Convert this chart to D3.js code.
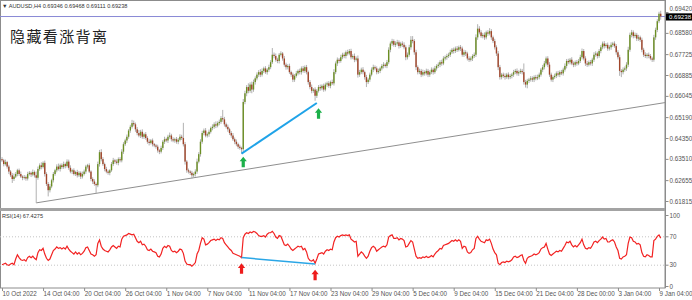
<!DOCTYPE html>
<html>
<head>
<meta charset="utf-8">
<script src="https://cdn.jsdelivr.net/npm/d3@7"></script>
<style>
  body { margin: 0; background: #fff; }
  svg { display: block; font-family: "Liberation Sans", Arial, sans-serif; }
</style>
</head>
<body>
<svg id="chart"></svg>
<script>
// AUDUSD H4 bars, prices in pips (x 0.0001)
const opens = [
  6350,6345,6330,6338,6320,6300,6285,6270,6280,6290, 6305,6290,6280,6275,6278,6272,6290,6295,6288,6298,
  6285,6275,6310,6325,6318,6335,6290,6250,6225,6240, 6265,6290,6305,6320,6310,6325,6318,6330,6322,6340,
  6315,6300,6305,6290,6298,6285,6295,6280,6290,6300, 6320,6325,6300,6270,6260,6250,6245,6330,6378,6350,
  6330,6310,6300,6295,6305,6330,6345,6340,6335,6350, 6345,6380,6410,6425,6440,6465,6480,6495,6490,6470,
  6455,6445,6460,6440,6450,6435,6420,6415,6425,6410, 6405,6400,6385,6380,6395,6420,6430,6425,6440,6445,
  6430,6425,6430,6420,6428,6440,6435,6410,6340,6305, 6300,6295,6285,6290,6300,6340,6370,6420,6455,6465,
  6445,6450,6460,6475,6480,6490,6485,6495,6500,6515, 6510,6490,6480,6470,6455,6445,6430,6420,6410,6400,
  6395,6390,6580,6615,6640,6625,6650,6630,6660,6675, 6690,6700,6690,6705,6715,6700,6710,6720,6740,6770,
  6765,6750,6745,6770,6775,6755,6730,6720,6725,6700, 6690,6670,6685,6695,6705,6700,6715,6705,6720,6700,
  6660,6640,6625,6630,6605,6625,6640,6635,6645,6630, 6650,6655,6645,6660,6655,6700,6735,6750,6745,6760,
  6770,6765,6780,6775,6785,6760,6765,6750,6755,6690, 6700,6710,6700,6680,6660,6670,6690,6710,6720,6715,
  6700,6705,6715,6725,6730,6725,6740,6790,6815,6825, 6810,6815,6820,6805,6815,6810,6800,6760,6770,6800,
  6830,6825,6780,6720,6700,6705,6690,6700,6695,6705, 6690,6700,6710,6700,6715,6725,6730,6740,6735,6755,
  6760,6765,6770,6780,6790,6785,6795,6790,6800,6795, 6770,6780,6775,6755,6750,6755,6765,6770,6840,6875,
  6860,6845,6850,6840,6860,6855,6865,6840,6825,6800, 6775,6720,6680,6690,6685,6680,6690,6680,6685,6690,
  6700,6705,6695,6700,6705,6700,6660,6650,6665,6670, 6675,6670,6680,6675,6680,6690,6710,6720,6735,6755,
  6730,6690,6670,6680,6685,6695,6690,6700,6695,6710, 6725,6745,6740,6750,6735,6730,6740,6735,6745,6760,
  6785,6755,6735,6730,6740,6735,6750,6770,6775,6765, 6785,6800,6815,6805,6810,6795,6800,6810,6815,6805,
  6780,6760,6705,6700,6710,6715,6730,6790,6850,6860, 6845,6850,6835,6840,6830,6790,6770,6765,6770,6765,
  6755,6750,6840,6870,6905,6935
];
const closes = [
  6345,6330,6338,6320,6300,6285,6270,6280,6290,6305, 6290,6280,6275,6278,6272,6290,6295,6288,6298,6285,
  6275,6310,6325,6318,6335,6290,6250,6225,6240,6265, 6290,6305,6320,6310,6325,6318,6330,6322,6340,6315,
  6300,6305,6290,6298,6285,6295,6280,6290,6300,6320, 6325,6300,6270,6260,6250,6245,6330,6378,6350,6330,
  6310,6300,6295,6305,6330,6345,6340,6335,6350,6345, 6380,6410,6425,6440,6465,6480,6495,6490,6470,6455,
  6445,6460,6440,6450,6435,6420,6415,6425,6410,6405, 6400,6385,6380,6395,6420,6430,6425,6440,6445,6430,
  6425,6430,6420,6428,6440,6435,6410,6340,6305,6300, 6295,6285,6290,6300,6340,6370,6420,6455,6465,6445,
  6450,6460,6475,6480,6490,6485,6495,6500,6515,6510, 6490,6480,6470,6455,6445,6430,6420,6410,6400,6395,
  6390,6580,6615,6640,6625,6650,6630,6660,6675,6690, 6700,6690,6705,6715,6700,6710,6720,6740,6770,6765,
  6750,6745,6770,6775,6755,6730,6720,6725,6700,6690, 6670,6685,6695,6705,6700,6715,6705,6720,6700,6660,
  6640,6625,6630,6605,6625,6640,6635,6645,6630,6650, 6655,6645,6660,6655,6700,6735,6750,6745,6760,6770,
  6765,6780,6775,6785,6760,6765,6750,6755,6690,6700, 6710,6700,6680,6660,6670,6690,6710,6720,6715,6700,
  6705,6715,6725,6730,6725,6740,6790,6815,6825,6810, 6815,6820,6805,6815,6810,6800,6760,6770,6800,6830,
  6825,6780,6720,6700,6705,6690,6700,6695,6705,6690, 6700,6710,6700,6715,6725,6730,6740,6735,6755,6760,
  6765,6770,6780,6790,6785,6795,6790,6800,6795,6770, 6780,6775,6755,6750,6755,6765,6770,6840,6875,6860,
  6845,6850,6840,6860,6855,6865,6840,6825,6800,6775, 6720,6680,6690,6685,6680,6690,6680,6685,6690,6700,
  6705,6695,6700,6705,6700,6660,6650,6665,6670,6675, 6670,6680,6675,6680,6690,6710,6720,6735,6755,6730,
  6690,6670,6680,6685,6695,6690,6700,6695,6710,6725, 6745,6740,6750,6735,6730,6740,6735,6745,6760,6785,
  6755,6735,6730,6740,6735,6750,6770,6775,6765,6785, 6800,6815,6805,6810,6795,6800,6810,6815,6805,6780,
  6760,6705,6700,6710,6715,6730,6790,6850,6860,6845, 6850,6835,6840,6830,6790,6770,6765,6770,6765,6755,
  6750,6840,6870,6905,6935,6924
];
// wick lengths above / below the body, in pips
const wickUp = [
  8,6,10,5,7,6,9,12,8,6, 7,10,5,8,6,9,7,5,10,6, 15,10,8,12,6,9,7,8,10,6, 8,6,9,12,7,8,10,6,9,8,
  10,6,8,5,9,7,6,10,8,7, 6,8,5,7,9,6,10,9,12,8, 6,9,7,5,8,10,6,9,7,8, 10,8,7,9,6,8,13,10,7,9,
  12,8,10,6,9,7,10,6,8,5, 6,8,5,9,7,10,6,8,12,7, 8,6,9,7,10,8,61,9,6,7, 5,8,6,9,12,8,10,9,8,10,
  7,9,6,10,8,12,7,9,8,33, 10,7,9,6,8,10,7,9,6,8, 5,12,10,8,15,9,12,10,8,9, 8,12,10,7,9,6,10,8,27,9,
  10,8,7,9,6,10,8,7,9,6, 8,7,10,6,9,8,10,7,9,6, 8,10,6,9,7,8,10,6,9,8, 7,9,6,10,12,8,9,7,10,8,
  9,7,10,8,9,7,10,8,12,9, 8,10,6,9,7,8,9,10,7,8, 9,7,8,10,6,9,10,8,9,7, 9,10,8,7,9,10,8,9,10,15,
  15,8,10,7,9,8,10,7,9,8, 7,9,8,10,7,9,8,10,9,7, 9,8,10,7,9,8,10,7,9,8, 10,8,7,9,8,7,9,12,18,10,
  9,8,10,7,9,12,8,7,9,8, 10,9,7,8,10,7,9,8,7,9, 8,10,7,9,8,35,9,8,7,9, 8,7,9,10,8,7,9,10,8,9,
  10,8,7,9,8,10,7,9,8,10, 8,9,7,10,8,7,9,8,10,10, 8,9,10,7,9,8,10,9,7,8, 9,8,10,7,9,8,10,7,9,8,
  8,10,7,9,8,10,12,9,10,8, 9,8,10,7,9,8,10,7,9,8, 7,10,9,8,8,12
];
const wickDown = [
  7,9,6,8,10,7,16,8,6,9, 8,6,10,7,9,8,6,10,7,9, 101,8,7,9,6,10,8,25,9,7, 9,7,8,6,10,8,7,9,6,8,
  7,10,6,8,9,7,10,8,6,9, 8,6,9,10,7,33,8,10,9,7, 9,7,8,10,6,8,9,7,10,8, 8,9,7,10,8,9,7,8,10,9,
  7,10,8,9,7,8,10,6,9,7, 8,9,10,7,8,9,7,10,8,9, 7,9,8,10,7,8,9,12,10,8, 9,13,8,10,9,7,10,8,9,7,
  8,10,7,9,8,10,7,9,8,10, 9,7,10,8,9,7,10,8,9,7, 18,10,9,12,10,8,15,9,10,8, 9,10,8,9,7,10,9,8,7,9,
  8,9,10,7,9,8,10,9,7,9, 10,9,7,8,9,10,7,8,9,10, 9,10,8,20,9,7,10,8,9,7, 9,8,10,7,9,8,10,9,7,8,
  9,10,8,7,9,8,10,7,12,9, 8,9,10,20,8,9,7,10,8,9, 7,9,8,10,7,9,8,10,9,8, 9,8,10,7,9,8,12,9,8,10,
  9,10,12,9,8,10,7,9,8,10, 9,8,10,7,9,8,10,9,7,8, 10,8,9,7,10,8,9,7,10,8, 9,10,8,9,7,10,8,9,10,8,
  7,9,10,8,9,7,10,8,9,10, 12,10,9,8,10,7,9,8,10,9, 8,9,10,7,9,10,12,15,9,8, 9,10,8,7,9,8,10,9,8,10,
  9,8,10,7,9,8,10,7,9,8, 10,8,9,7,10,8,9,7,8,9, 8,10,9,7,8,10,9,8,10,7, 9,8,10,7,9,8,10,9,7,10,
  9,20,20,9,8,10,9,8,10,9, 8,10,9,8,10,9,8,10,9,7, 9,8,10,9,8,13
];
const rsiValues = [
  30,31,32,30,29,31,32,30,38,44, 40,37,36,37,35,40,42,40,42,39, 37,47,51,50,53,45,39,36,38,44,
  50,52,55,53,54,52,54,52,56,52, 49,47,45,48,45,47,44,46,49,54, 55,50,45,44,42,44,60,65,56,52,
  50,49,48,51,55,57,55,53,56,55, 66,70,71,72,74,73,72,73,68,63, 61,63,58,59,56,51,50,52,49,48,
  47,42,41,45,53,56,54,57,56,50, 48,49,47,49,52,51,46,35,31,30, 30,28,30,33,45,50,60,68,66,58,
  59,61,64,65,66,64,66,65,68,67, 61,58,55,52,50,46,45,44,43,42, 40,68,73,75,74,76,75,77,76,74,
  71,70,70,71,69,73,75,75,77,74, 69,67,71,70,64,58,57,59,56,52, 50,52,54,56,55,56,51,53,48,39,
  36,35,37,32,38,45,46,47,45,49, 51,50,52,51,62,68,70,69,71,72, 71,72,71,72,66,64,62,63,42,45,
  48,46,42,39,42,49,54,56,54,49, 51,53,55,56,55,58,69,71,72,67, 67,68,65,67,66,64,55,56,60,64,
  62,52,42,39,40,39,41,40,42,40, 41,43,41,45,48,50,53,52,57,58, 59,60,62,64,63,65,63,65,63,53,
  56,55,48,46,47,51,53,67,70,66, 63,62,61,65,64,66,60,52,47,44, 32,30,33,34,33,35,34,35,37,41,
  42,40,41,43,44,36,32,39,41,42, 43,45,44,45,47,52,54,55,60,52, 45,43,45,47,49,48,50,49,53,57,
  62,61,63,58,55,57,55,58,61,66, 58,53,52,54,53,57,62,63,61,64, 66,69,66,67,62,62,64,65,62,55,
  50,39,38,41,42,44,60,69,68,63, 62,59,60,58,47,42,41,44,43,41, 41,64,66,70,72,67.4275
];

const priceTicks = [0.69420, 0.68580, 0.67725, 0.66885, 0.66045, 0.65190, 0.64350, 0.63510, 0.62655, 0.61815];
const rsiTicks = [100, 70, 30, 0];
const rsiLevels = [70, 30];
const timeTickBars = [0, 24, 48, 72, 96, 120, 144, 168, 192, 216, 240, 264, 288, 312, 336, 360, 384];
const timeLabels = ["10 Oct 2022", "14 Oct 04:00", "20 Oct 04:00", "26 Oct 04:00", "1 Nov 04:00",
  "7 Nov 04:00", "11 Nov 04:00", "17 Nov 04:00", "23 Nov 04:00", "29 Nov 04:00", "5 Dec 04:00",
  "9 Dec 04:00", "15 Dec 04:00", "21 Dec 04:00", "28 Dec 00:00", "3 Jan 04:00", "9 Jan 04:00"];

// drawn objects: [bar index, value]
const trendLine = [[20, 0.6174], [388, 0.6578]];
const priceDivergence = [[140, 0.6372], [184, 0.6576]];
const rsiDivergence = [[140, 40], [183, 31]];
const priceArrows = [[141, 0.6360], [185, 0.6555]];
const rsiArrows = [[140, 32], [183, 23]];

const headerText = "▼ AUDUSD,H4  0.69346 0.69468 0.69111 0.69238";
const titleText = "隐藏看涨背离";
const rsiTitle = "RSI(14) 67.4275";
const lastPrice = 0.69238;

// ---- layout
const W = 692, H = 300;
const plotRight = 665;
const mainBottom = 207, rsiTop = 211, rsiBottom = 288;

const svg = d3.select("#chart").attr("width", W).attr("height", H);

const x = d3.scaleLinear().domain([0, 384]).range([2, 659]);
const y = d3.scaleLinear().domain([0.61815, 0.69420]).range([201, 12]);
const yR = d3.scaleLinear().domain([0, 100]).range([286, 215]);

const bars = closes.map((c, i) => {
  const o = opens[i];
  return {
    i,
    o: o / 1e4,
    c: c / 1e4,
    h: (Math.max(o, c) + wickUp[i]) / 1e4,
    l: (Math.min(o, c) - wickDown[i]) / 1e4
  };
});

svg.append("defs").append("clipPath").attr("id", "mainClip")
  .append("rect").attr("x", 0).attr("y", 0).attr("width", plotRight).attr("height", mainBottom);
svg.select("defs").append("clipPath").attr("id", "rsiClip")
  .append("rect").attr("x", 0).attr("y", rsiTop).attr("width", plotRight).attr("height", rsiBottom - rsiTop);

// frame
svg.append("rect").attr("x", 0.5).attr("y", 0.5).attr("width", plotRight - 0.5).attr("height", rsiBottom - 0.5)
  .attr("fill", "none").attr("stroke", "#8c8c8c");
svg.append("rect").attr("x", 0).attr("y", mainBottom + 1).attr("width", plotRight + 1).attr("height", 3)
  .attr("fill", "#a3a3a3");

const main = svg.append("g").attr("clip-path", "url(#mainClip)");

// bid line
main.append("line")
  .attr("x1", 0).attr("x2", plotRight)
  .attr("y1", y(lastPrice)).attr("y2", y(lastPrice))
  .attr("stroke", "#8a8ad6").attr("stroke-width", 1);

// trend line
main.append("line")
  .attr("x1", x(trendLine[0][0])).attr("y1", y(trendLine[0][1]))
  .attr("x2", x(trendLine[1][0])).attr("y2", y(trendLine[1][1]))
  .attr("stroke", "#8f8f8f").attr("stroke-width", 1);

// candles
const candle = main.append("g").selectAll("g").data(bars).join("g");
candle.append("line")
  .attr("x1", d => x(d.i)).attr("x2", d => x(d.i))
  .attr("y1", d => y(d.h)).attr("y2", d => y(d.l))
  .attr("stroke", "#a8a8a8").attr("stroke-width", 0.9);
candle.append("rect")
  .attr("x", d => x(d.i) - 0.7)
  .attr("width", 1.4)
  .attr("y", d => y(Math.max(d.o, d.c)))
  .attr("height", d => Math.max(0.8, Math.abs(y(d.o) - y(d.c))))
  .attr("fill", d => d.c >= d.o ? "#6b8e23" : "#a0452a");

// divergence line on price
main.append("line")
  .attr("x1", x(priceDivergence[0][0])).attr("y1", y(priceDivergence[0][1]))
  .attr("x2", x(priceDivergence[1][0])).attr("y2", y(priceDivergence[1][1]))
  .attr("stroke", "#1fa3e8").attr("stroke-width", 2);

const arrowPath = "M0,0 L-3.6,4.6 L-1.6,4.6 L-1.6,10.5 L1.6,10.5 L1.6,4.6 L3.6,4.6 Z";
main.selectAll(".up-arrow").data(priceArrows).join("path")
  .attr("class", "up-arrow")
  .attr("d", arrowPath)
  .attr("transform", d => `translate(${x(d[0])},${y(d[1])})`)
  .attr("fill", "#1cb04a");

// RSI panel
const rsiG = svg.append("g").attr("clip-path", "url(#rsiClip)");
rsiG.selectAll(".level").data(rsiLevels).join("line")
  .attr("class", "level")
  .attr("x1", 0).attr("x2", plotRight)
  .attr("y1", d => yR(d) + 0.5).attr("y2", d => yR(d) + 0.5)
  .attr("stroke", "#c4c4c4").attr("stroke-dasharray", "1,2");

rsiG.append("path")
  .datum(rsiValues)
  .attr("d", d3.line().x((d, i) => x(i)).y(d => yR(d)))
  .attr("fill", "none").attr("stroke", "#f22222").attr("stroke-width", 1.2);

rsiG.append("line")
  .attr("x1", x(rsiDivergence[0][0])).attr("y1", yR(rsiDivergence[0][1]))
  .attr("x2", x(rsiDivergence[1][0])).attr("y2", yR(rsiDivergence[1][1]))
  .attr("stroke", "#2aa6e6").attr("stroke-width", 1.5);

rsiG.selectAll(".rsi-arrow").data(rsiArrows).join("path")
  .attr("class", "rsi-arrow")
  .attr("d", arrowPath)
  .attr("transform", d => `translate(${x(d[0])},${yR(d[1])})`)
  .attr("fill", "#ee1c1c");

// axes
function styleAxis(g) {
  g.select(".domain").attr("stroke", "#8c8c8c");
  g.selectAll(".tick line").attr("stroke", "#8c8c8c");
  g.selectAll(".tick text").attr("fill", "#555").style("font-size", "6.3px");
}

svg.append("g")
  .attr("transform", `translate(${plotRight + 0.5},0)`)
  .call(d3.axisRight(y).tickValues(priceTicks).tickFormat(d3.format(".5f")).tickSize(3).tickPadding(1).tickSizeOuter(0))
  .call(g => g.select(".domain").remove())
  .call(styleAxis)
  // top label sits just above the last-price tag
  .call(g => g.selectAll(".tick text").filter(d => d === priceTicks[0]).attr("dy", "-0.25em"));

svg.append("g")
  .attr("transform", `translate(${plotRight + 0.5},0)`)
  .call(d3.axisRight(yR).tickValues(rsiTicks).tickSize(3).tickPadding(1).tickSizeOuter(0))
  .call(g => g.select(".domain").remove())
  .call(styleAxis);

svg.append("line").attr("x1", plotRight + 0.5).attr("x2", plotRight + 0.5).attr("y1", 0).attr("y2", rsiBottom)
  .attr("stroke", "#8c8c8c");

svg.append("g")
  .attr("transform", `translate(0,${rsiBottom})`)
  .call(d3.axisBottom(x).tickValues(timeTickBars).tickFormat((d, i) => timeLabels[i]).tickSize(3).tickPadding(1).tickSizeOuter(0))
  .call(g => g.select(".domain").remove())
  .call(styleAxis)
  .call(g => g.selectAll(".tick text").attr("text-anchor", "start").attr("dx", 0));

// last price tag
const tag = svg.append("g").attr("transform", `translate(${plotRight + 1},${y(lastPrice)})`);
tag.append("rect").attr("x", 0).attr("y", -3.2).attr("width", 27).attr("height", 7.2).attr("fill", "#000");
tag.append("text").attr("x", 3).attr("y", 2.3).attr("fill", "#fff").style("font-size", "6.1px")
  .text(d3.format(".5f")(lastPrice));

// texts
svg.append("text").attr("x", 2).attr("y", 7.5).attr("fill", "#333").style("font-size", "5.6px").text(headerText);
svg.append("text").attr("x", 2).attr("y", 217.5).attr("fill", "#333").style("font-size", "5.6px").text(rsiTitle);
svg.append("text").attr("x", 10).attr("y", 41.5).attr("fill", "#222")
  .style("font-family", "'Noto Sans CJK SC', sans-serif").style("font-size", "15px")
  .style("letter-spacing", "1.4px").text(titleText);
</script>
</body>
</html>
